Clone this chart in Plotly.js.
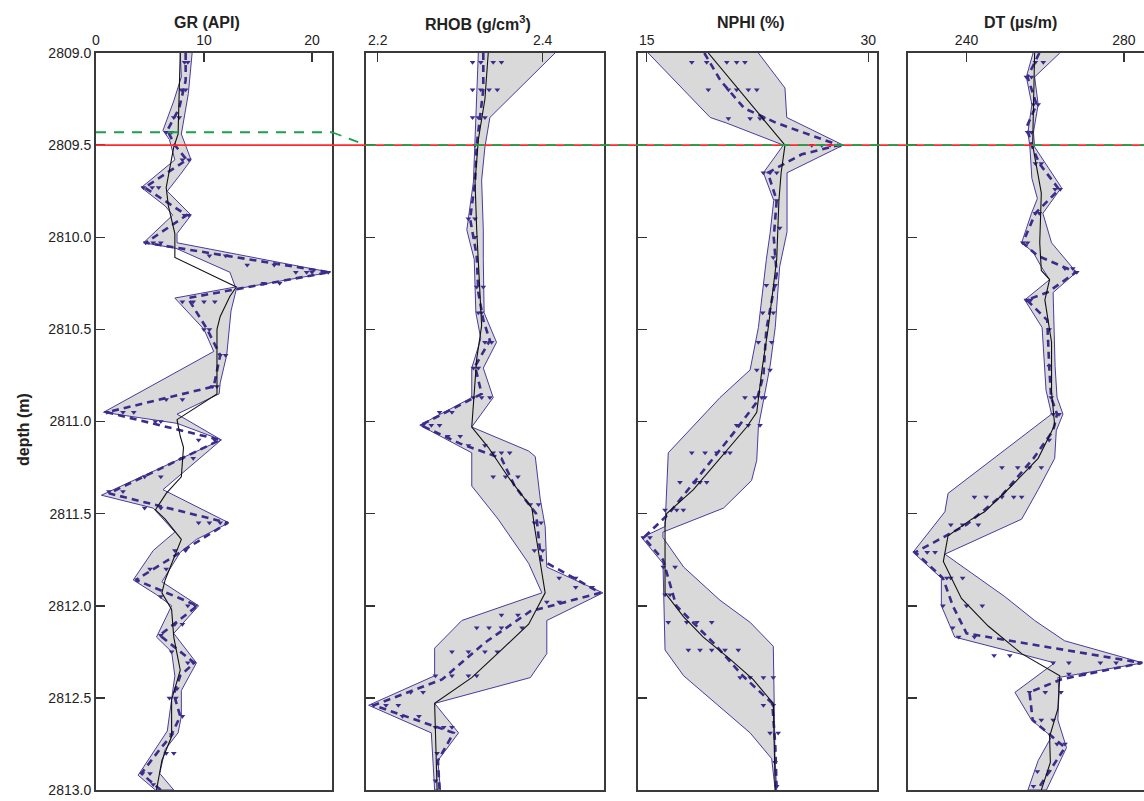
<!DOCTYPE html>
<html><head><meta charset="utf-8">
<script src="https://cdn.plot.ly/plotly-3.0.1.min.js"></script>
<style>html,body{margin:0;padding:0;overflow:hidden;background:#fff;width:1144px;height:801px}#chart{width:1148px;height:801px}</style>
</head><body><div id="chart"></div>
<script>
// ---------------- DATA ----------------
// GR (API)
const GR_dash_depth = [2809.00,2809.15,2809.30,2809.42,2809.50,2809.58,2809.73,2809.88,2810.03,2810.19,2810.33,2810.50,2810.64,2810.81,2810.95,2811.10,2811.39,2811.55,2811.86,2812.00,2812.16,2812.31,2812.38,2812.48,2812.60,2812.71,2812.78,2812.91,2813.00];
const GR_dash_value = [8.3,8.3,7.7,6.6,7.3,8.4,4.5,8.4,4.6,21.6,8.5,10.3,11.5,10.9,1.0,11.5,1.2,12.2,3.7,9.4,5.9,9.1,7.8,7.2,7.8,6.9,5.9,4.2,6.0];
const GR_band_left_depth = [2809.00,2809.13,2809.26,2809.42,2809.47,2809.58,2809.73,2809.83,2809.88,2810.03,2810.06,2810.19,2810.27,2810.33,2810.50,2810.62,2810.95,2811.01,2811.10,2811.40,2811.47,2811.60,2811.70,2811.86,2811.94,2812.00,2812.17,2812.25,2812.38,2812.50,2812.68,2812.92,2813.00];
const GR_band_left_value = [7.8,7.9,7.2,6.2,6.8,7.3,4.2,6.4,7.1,4.4,7.4,12.4,12.9,7.3,10.0,10.9,0.7,7.5,11.6,0.5,5.3,7.3,5.3,3.45,5.6,7.0,5.6,7.0,7.3,7.0,6.6,3.9,5.5];
const GR_band_right_depth = [2809.00,2809.22,2809.44,2809.58,2809.66,2809.75,2809.88,2809.98,2810.03,2810.19,2810.28,2810.40,2810.64,2810.79,2810.85,2810.96,2811.10,2811.37,2811.55,2811.64,2811.71,2811.87,2812.00,2812.15,2812.31,2812.46,2812.60,2812.69,2812.78,2812.91,2813.00];
const GR_band_right_value = [8.9,8.55,7.9,8.8,7.8,6.6,8.8,7.5,7.5,21.7,13.0,12.5,12.1,11.5,11.4,7.5,11.6,6.2,12.3,9.3,7.8,6.1,9.5,7.2,9.3,7.9,7.9,7.6,6.4,5.9,7.2];
const GR_trend_depth = [2809.00,2809.44,2809.51,2809.73,2809.83,2809.98,2810.11,2810.25,2810.27,2810.32,2810.43,2810.50,2810.85,2810.99,2811.08,2811.14,2811.30,2811.39,2811.48,2811.53,2811.64,2811.86,2811.93,2812.02,2812.17,2812.35,2812.51,2812.71,2812.84,2813.00];
const GR_trend_value = [7.8,7.6,7.2,6.5,6.7,7.3,7.3,12.4,13.0,12.4,11.5,11.2,11.2,7.5,7.8,8.1,7.9,6.5,5.5,6.4,7.9,6.4,6.1,7.0,7.2,7.8,7.0,7.0,6.1,5.6];
const GR_pts_depth = [2809.05,2809.05,2809.20,2809.20,2809.35,2809.35,2809.43,2809.43,2809.58,2809.58,2809.73,2809.73,2809.73,2809.88,2809.88,2810.03,2810.03,2810.03,2810.10,2810.10,2810.15,2810.15,2810.19,2810.19,2810.19,2810.19,2810.25,2810.25,2810.35,2810.35,2810.35,2810.35,2810.50,2810.50,2810.64,2810.64,2810.81,2810.81,2810.88,2810.88,2810.95,2810.95,2810.95,2811.00,2811.00,2811.10,2811.10,2811.20,2811.20,2811.30,2811.30,2811.38,2811.38,2811.47,2811.47,2811.55,2811.55,2811.55,2811.70,2811.70,2811.80,2811.80,2811.86,2811.95,2812.00,2812.00,2812.10,2812.10,2812.16,2812.25,2812.31,2812.31,2812.45,2812.50,2812.50,2812.60,2812.70,2812.80,2812.80,2812.91,2812.91,2812.97];
const GR_pts_value = [8.2,8.5,7.9,8.3,7.2,7.7,6.5,7.0,8.0,8.6,4.4,5.2,5.8,8.2,8.6,4.6,5.3,6.0,10.5,12.0,14.0,16.5,18.5,19.5,20.0,21.5,15.5,17.0,8.0,9.0,10.0,11.0,10.0,10.5,11.5,12.0,10.8,11.2,6.5,8.0,1.0,2.5,3.5,5.5,6.0,9.5,11.0,8.0,9.0,4.5,6.0,1.2,2.5,4.5,6.0,9.5,10.5,11.5,7.3,8.3,5.0,6.5,3.8,6.0,8.5,9.2,7.3,8.0,6.0,7.0,8.5,9.0,7.5,6.8,7.4,8.0,7.0,6.5,7.2,4.3,5.0,5.3];

// RHOB (g/cm3)
const RHOB_dash_depth = [2809.00,2809.20,2809.35,2809.50,2809.70,2809.90,2810.10,2810.30,2810.45,2810.56,2810.70,2810.85,2811.02,2811.12,2811.20,2811.35,2811.50,2811.75,2811.93,2812.03,2812.20,2812.40,2812.54,2812.69,2812.84,2813.00];
const RHOB_dash_value = [2.328,2.328,2.324,2.320,2.318,2.312,2.320,2.322,2.328,2.336,2.318,2.326,2.252,2.300,2.350,2.366,2.392,2.398,2.470,2.385,2.330,2.278,2.195,2.292,2.273,2.275];
const RHOB_band_left_depth = [2809.00,2809.50,2809.70,2809.96,2810.12,2810.41,2810.55,2810.71,2810.87,2811.02,2811.17,2811.35,2811.53,2811.77,2811.93,2812.08,2812.23,2812.38,2812.54,2812.69,2813.00];
const RHOB_band_left_value = [2.322,2.318,2.316,2.308,2.317,2.319,2.325,2.314,2.314,2.251,2.314,2.314,2.346,2.383,2.399,2.302,2.269,2.269,2.189,2.265,2.269];
const RHOB_band_right_depth = [2809.00,2809.20,2809.35,2809.51,2809.69,2809.96,2810.12,2810.41,2810.57,2810.71,2810.87,2811.03,2811.16,2811.19,2811.42,2811.57,2811.79,2811.93,2812.08,2812.26,2812.39,2812.53,2812.69,2812.84,2813.00];
const RHOB_band_right_value = [2.415,2.370,2.336,2.330,2.326,2.328,2.328,2.329,2.344,2.328,2.340,2.314,2.383,2.391,2.397,2.403,2.405,2.473,2.405,2.405,2.385,2.269,2.298,2.273,2.276];
const RHOB_trend_depth = [2809.00,2809.25,2809.47,2809.70,2809.96,2810.12,2810.48,2810.66,2810.88,2811.03,2811.14,2811.30,2811.47,2811.57,2811.93,2812.10,2812.24,2812.39,2812.53,2813.00];
const RHOB_trend_value = [2.334,2.330,2.322,2.318,2.320,2.322,2.326,2.320,2.316,2.314,2.334,2.358,2.387,2.390,2.403,2.383,2.350,2.314,2.269,2.272];
const RHOB_pts_depth = [2809.05,2809.05,2809.05,2809.05,2809.20,2809.20,2809.20,2809.20,2809.35,2809.35,2809.35,2809.50,2809.90,2809.90,2810.00,2810.27,2810.27,2810.41,2810.41,2810.57,2810.57,2810.71,2810.71,2810.87,2810.87,2810.87,2810.95,2810.95,2811.02,2811.02,2811.02,2811.08,2811.08,2811.13,2811.13,2811.17,2811.17,2811.17,2811.30,2811.30,2811.30,2811.45,2811.45,2811.55,2811.55,2811.70,2811.70,2811.85,2811.85,2811.90,2811.90,2811.98,2811.98,2812.05,2812.05,2812.12,2812.12,2812.12,2812.12,2812.25,2812.25,2812.25,2812.25,2812.38,2812.38,2812.38,2812.38,2812.47,2812.47,2812.54,2812.54,2812.54,2812.60,2812.60,2812.66,2812.66,2812.66,2812.80,2812.95];
const RHOB_pts_value = [2.315,2.325,2.340,2.350,2.315,2.325,2.335,2.345,2.315,2.322,2.330,2.318,2.310,2.318,2.318,2.320,2.328,2.322,2.326,2.330,2.338,2.316,2.322,2.316,2.326,2.336,2.275,2.290,2.255,2.265,2.275,2.285,2.300,2.310,2.330,2.340,2.350,2.360,2.340,2.355,2.370,2.385,2.395,2.390,2.398,2.390,2.400,2.420,2.440,2.440,2.460,2.405,2.420,2.350,2.370,2.320,2.335,2.350,2.375,2.290,2.310,2.330,2.345,2.270,2.290,2.310,2.320,2.240,2.255,2.195,2.210,2.225,2.230,2.250,2.270,2.280,2.290,2.272,2.270];

// NPHI (%)
const NPHI_dash_depth = [2809.00,2809.15,2809.30,2809.38,2809.50,2809.55,2809.65,2809.80,2810.00,2810.20,2810.50,2810.75,2810.90,2811.05,2811.30,2811.50,2811.63,2811.75,2812.00,2812.20,2812.38,2812.53,2812.75,2813.00];
const NPHI_dash_value = [18.9,20.0,21.6,23.8,28.0,25.5,23.2,23.8,23.6,23.8,23.1,22.9,22.4,21.0,18.5,16.5,14.8,16.1,17.0,19.5,21.5,23.5,23.7,23.8];
const NPHI_band_left_depth = [2809.00,2809.35,2809.38,2809.50,2809.65,2809.80,2809.98,2810.12,2810.49,2810.72,2810.87,2811.17,2811.57,2811.63,2811.77,2812.24,2812.38,2812.53,2812.69,2812.83,2813.00];
const NPHI_band_left_value = [15.1,19.3,20.4,24.25,22.9,23.6,23.35,23.1,22.56,22.0,19.96,16.46,16.24,14.66,16.1,16.24,17.5,19.7,22.0,23.46,23.7];
const NPHI_band_right_depth = [2809.00,2809.19,2809.35,2809.50,2809.65,2809.97,2810.16,2810.49,2810.70,2811.03,2811.21,2811.32,2811.47,2811.60,2811.63,2811.79,2811.97,2812.09,2812.22,2812.84,2813.00];
const NPHI_band_right_value = [22.56,24.36,24.48,28.3,24.5,24.5,24.0,23.7,23.35,22.56,22.45,22.1,20.2,16.1,16.1,17.5,19.96,22.0,23.57,23.69,23.8];
const NPHI_trend_depth = [2809.00,2809.50,2809.65,2809.80,2810.12,2810.49,2810.72,2810.95,2811.03,2811.20,2811.37,2811.50,2811.55,2811.93,2812.06,2812.17,2812.29,2812.40,2812.53,2813.00];
const NPHI_trend_value = [19.17,24.36,24.1,23.95,23.8,23.23,22.8,22.45,21.77,19.96,18.16,16.35,16.24,16.24,17.5,18.83,20.64,22.2,23.57,23.7];
const NPHI_pts_depth = [2809.05,2809.05,2809.05,2809.05,2809.05,2809.20,2809.20,2809.20,2809.20,2809.20,2809.355,2809.355,2809.355,2809.355,2809.50,2809.50,2809.50,2809.50,2809.65,2809.65,2809.65,2809.80,2809.95,2810.11,2810.26,2810.26,2810.41,2810.41,2810.57,2810.57,2810.72,2810.72,2810.87,2810.87,2810.87,2810.87,2811.02,2811.02,2811.02,2811.17,2811.17,2811.17,2811.17,2811.17,2811.33,2811.33,2811.33,2811.33,2811.48,2811.48,2811.48,2811.63,2811.63,2811.79,2811.79,2811.94,2811.94,2812.09,2812.09,2812.09,2812.09,2812.24,2812.24,2812.24,2812.24,2812.24,2812.39,2812.39,2812.39,2812.39,2812.54,2812.54,2812.69,2812.69,2812.85,2812.98];
const NPHI_pts_value = [18.05,19.06,20.42,21.09,21.65,19.17,20.53,21.09,21.88,22.45,20.53,22.0,22.67,22.9,26.17,26.85,27.41,28.09,22.9,23.35,23.8,23.8,24.0,23.57,23.1,23.7,22.85,23.57,22.56,23.46,22.45,23.35,21.65,22.33,22.79,23.0,21.09,21.88,22.67,18.05,18.95,19.74,20.3,20.64,17.25,18.27,18.61,19.06,16.24,17.03,17.48,14.77,15.22,16.12,16.92,16.24,16.58,16.46,17.71,18.39,19.4,17.82,18.61,19.4,20.3,21.2,21.32,22.0,22.9,23.57,22.9,23.57,23.35,23.9,23.69,23.8];

// DT (us/m)
const DT_dash_depth = [2809.00,2809.13,2809.28,2809.40,2809.50,2809.60,2809.74,2809.87,2810.03,2810.10,2810.19,2810.30,2810.34,2810.45,2810.70,2810.87,2810.96,2811.05,2811.20,2811.40,2811.56,2811.71,2811.85,2812.00,2812.15,2812.31,2812.40,2812.47,2812.62,2812.77,2812.90,2813.00];
const DT_dash_value = [258.5,255.5,257.8,255.3,256.5,258.5,263.5,257.5,254.3,258.0,267.8,260.5,255.3,260.5,261.0,261.5,263.0,262.0,257.0,249.0,240.0,227.0,234.0,236.5,240.0,284.5,264.0,256.0,256.8,265.0,261.0,258.0];
const DT_band_left_depth = [2809.00,2809.13,2809.28,2809.43,2809.51,2809.68,2809.79,2809.87,2810.03,2810.08,2810.16,2810.23,2810.34,2810.49,2810.83,2810.96,2811.39,2811.49,2811.71,2811.85,2812.00,2812.17,2812.31,2812.47,2812.62,2812.71,2812.84,2813.00];
const DT_band_left_value = [256.9,255.2,256.6,255.6,256.1,256.6,258.0,256.5,254.0,256.9,259.0,261.1,254.8,259.2,260.2,261.6,235.3,234.5,226.4,233.6,233.6,237.0,262.4,252.3,256.5,261.6,258.2,255.6];
const DT_band_right_depth = [2809.00,2809.13,2809.28,2809.43,2809.51,2809.73,2809.87,2810.03,2810.19,2810.30,2810.45,2810.70,2810.87,2810.96,2811.05,2811.20,2811.37,2811.53,2811.72,2811.95,2812.08,2812.19,2812.31,2812.39,2812.47,2812.62,2812.77,2813.00];
const DT_band_right_value = [263.7,257.3,258.2,257.0,257.3,264.1,259.4,261.6,267.9,262.0,262.3,262.5,263.0,264.5,262.8,262.4,258.2,254.0,234.5,249.7,257.3,264.9,284.8,263.2,263.5,263.2,265.4,260.3];
const DT_trend_depth = [2809.00,2809.50,2809.76,2810.03,2810.18,2810.23,2810.34,2810.57,2810.84,2811.02,2811.20,2811.35,2811.49,2811.53,2811.62,2811.76,2811.96,2812.11,2812.26,2812.38,2812.56,2812.71,2812.85,2813.00];
const DT_trend_value = [257.3,256.8,259.0,258.6,259.0,261.1,259.9,261.6,261.6,262.4,258.2,251.4,244.6,241.3,235.3,234.1,238.7,245.5,254.0,263.7,263.2,261.1,261.3,259.0];
const DT_pts_depth = [2809.05,2809.05,2809.13,2809.13,2809.28,2809.28,2809.43,2809.43,2809.60,2809.60,2809.74,2809.74,2809.87,2809.87,2810.03,2810.03,2810.17,2810.17,2810.19,2810.34,2810.34,2810.50,2810.70,2810.87,2810.96,2810.96,2811.10,2811.25,2811.25,2811.25,2811.25,2811.41,2811.41,2811.41,2811.41,2811.41,2811.56,2811.56,2811.56,2811.71,2811.71,2811.71,2811.85,2811.85,2811.85,2812.00,2812.00,2812.00,2812.12,2812.17,2812.17,2812.27,2812.27,2812.31,2812.31,2812.31,2812.31,2812.31,2812.37,2812.37,2812.47,2812.47,2812.47,2812.62,2812.62,2812.75,2812.75,2812.90,2812.90,2812.98];
const DT_pts_value = [257.5,259.5,255.2,256.5,257.0,258.2,255.5,256.5,257.5,259.0,262.5,263.8,257.5,258.5,254.3,255.5,265.0,267.0,268.0,255.2,256.3,261.0,261.0,261.5,262.0,263.5,261.0,249.0,253.0,256.0,259.0,242.0,245.0,249.0,252.0,254.0,236.0,239.0,243.0,227.0,230.0,232.0,235.0,236.0,239.0,234.0,240.0,244.0,236.5,238.0,242.0,247.0,251.0,262.0,266.0,274.0,278.0,284.0,266.0,270.0,256.0,260.0,264.0,259.0,262.0,263.0,265.0,258.0,261.0,257.0];

// correlation markers (depth, m)
const corrRedDepth = 2809.5;
const corrGreenDepthTrack1 = 2809.43;
const corrGreenDepthOthers = 2809.5;

// axis tick labels
const yTickVals = [2809.0,2809.5,2810.0,2810.5,2811.0,2811.5,2812.0,2812.5,2813.0];
const trackTitles = ['GR (API)','RHOB (g/cm<sup>3</sup>)','NPHI (%)','DT (µs/m)'];
const trackTickVals = [[0,10,20],[2.2,2.4],[15,30],[240,280]];
const trackTickText = [['0','10','20'],['2.2','2.4'],['15','30'],['240','280']];

// ---------------- LAYOUT ----------------
const W = 1148, H = 801, TOP = 53, BOT = 790;
const trackPx = [[96,332],[366,604.3],[638.3,876.7],[908.3,1146]];
const trackRange = [[0,21.85],[2.1858,2.4747],[14.43,30.57],[225.2,285.6]];
const purple = '#3d2b8c', bandLine = '#4a3a9e', bandFill = '#d9d9d9';
const fontFam = 'Liberation Sans, Arial, Helvetica, sans-serif';

const series = [
  {dd:GR_dash_depth, dv:GR_dash_value, ld:GR_band_left_depth, lv:GR_band_left_value, rd:GR_band_right_depth, rv:GR_band_right_value, td:GR_trend_depth, tv:GR_trend_value, pd:GR_pts_depth, pv:GR_pts_value},
  {dd:RHOB_dash_depth, dv:RHOB_dash_value, ld:RHOB_band_left_depth, lv:RHOB_band_left_value, rd:RHOB_band_right_depth, rv:RHOB_band_right_value, td:RHOB_trend_depth, tv:RHOB_trend_value, pd:RHOB_pts_depth, pv:RHOB_pts_value},
  {dd:NPHI_dash_depth, dv:NPHI_dash_value, ld:NPHI_band_left_depth, lv:NPHI_band_left_value, rd:NPHI_band_right_depth, rv:NPHI_band_right_value, td:NPHI_trend_depth, tv:NPHI_trend_value, pd:NPHI_pts_depth, pv:NPHI_pts_value},
  {dd:DT_dash_depth, dv:DT_dash_value, ld:DT_band_left_depth, lv:DT_band_left_value, rd:DT_band_right_depth, rv:DT_band_right_value, td:DT_trend_depth, tv:DT_trend_value, pd:DT_pts_depth, pv:DT_pts_value}
];

const traces = [];
const layout = {
  width: W, height: H,
  margin: {l:0, r:0, t:TOP, b:H-BOT, pad:0},
  paper_bgcolor:'#fff', plot_bgcolor:'#fff',
  showlegend:false,
  font:{family:fontFam, size:14, color:'#222'},
  annotations:[], shapes:[]
};

const plotH = BOT-TOP;
series.forEach((s,i)=>{
  const sfx = i===0 ? '' : String(i+1);
  const xa = 'x'+sfx, ya = 'y'+sfx;
  const polyX = s.lv.concat(s.rv.slice().reverse());
  const polyY = s.ld.concat(s.rd.slice().reverse());
  traces.push({type:'scatter', mode:'lines', x:polyX, y:polyY, xaxis:xa, yaxis:ya, fill:'toself', fillcolor:bandFill, line:{color:bandLine, width:1}, hoverinfo:'skip'});
  traces.push({type:'scatter', mode:'markers', x:s.pv, y:s.pd, xaxis:xa, yaxis:ya, marker:{symbol:'triangle-down', size:5, color:purple}, hoverinfo:'skip'});
  traces.push({type:'scatter', mode:'lines', x:s.dv, y:s.dd, xaxis:xa, yaxis:ya, line:{color:purple, width:2.6, dash:'7px,5px'}, hoverinfo:'skip'});
  traces.push({type:'scatter', mode:'lines', x:s.tv, y:s.td, xaxis:xa, yaxis:ya, line:{color:'#111', width:1.1}, hoverinfo:'skip'});

  layout['xaxis'+sfx] = {
    domain:[trackPx[i][0]/W, trackPx[i][1]/W], range:trackRange[i], anchor:ya, side:'top',
    tickvals:trackTickVals[i], ticktext:trackTickText[i], ticks:'inside', ticklen:9, tickwidth:1.5, tickcolor:'#333',
    showline:true, mirror:true, linecolor:'#3a3a3a', linewidth:2, showgrid:false, zeroline:false,
    tickfont:{family:fontFam, size:14, color:'#222'}
  };
  layout['yaxis'+sfx] = {
    domain:[0,1], range:[2813,2809], anchor:xa,
    tickvals:yTickVals, tickformat:'.1f', ticks:'inside', ticklen:9, tickwidth:1.5, tickcolor:'#333',
    showticklabels: i===0, showline:true, mirror:true, linecolor:'#3a3a3a', linewidth:2, showgrid:false, zeroline:false,
    tickfont:{family:fontFam, size:14, color:'#222'}
  };
  if (i>0) layout['yaxis'+sfx].matches = 'y';
  layout.annotations.push({text:'<b>'+trackTitles[i]+'</b>', xref:'paper', yref:'paper', x:(trackPx[i][0]+trackPx[i][1])/2/W - 0.006, y:(BOT-23)/plotH, yanchor:'middle', xanchor:'center', showarrow:false, font:{family:fontFam, size:16, color:'#222'}});
});
layout.annotations.push({text:'<b>depth (m)</b>', xref:'paper', yref:'paper', x:23/W, y:(BOT-430)/plotH, xanchor:'center', yanchor:'middle', textangle:-90, showarrow:false, font:{family:fontFam, size:16, color:'#222'}});

// correlation lines
const gx0 = trackPx[0][0]/W, gx1 = trackPx[0][1]/W, rx0 = trackPx[1][0]/W;
layout.shapes.push({type:'line', xref:'paper', yref:'y', x0:gx0, x1:1, y0:corrRedDepth, y1:corrRedDepth, line:{color:'#ff2a2a', width:1.6}});
const green = {color:'#1aa14a', width:1.8, dash:'10px,8px'};
layout.shapes.push({type:'line', xref:'paper', yref:'y', x0:gx0, x1:gx1, y0:corrGreenDepthTrack1, y1:corrGreenDepthTrack1, line:green});
layout.shapes.push({type:'line', xref:'paper', yref:'y', x0:gx1, x1:rx0, y0:corrGreenDepthTrack1, y1:corrGreenDepthOthers, line:green});
layout.shapes.push({type:'line', xref:'paper', yref:'y', x0:rx0, x1:1, y0:corrGreenDepthOthers, y1:corrGreenDepthOthers, line:green});

Plotly.newPlot('chart', traces, layout, {staticPlot:true, displayModeBar:false});
</script></body></html>
